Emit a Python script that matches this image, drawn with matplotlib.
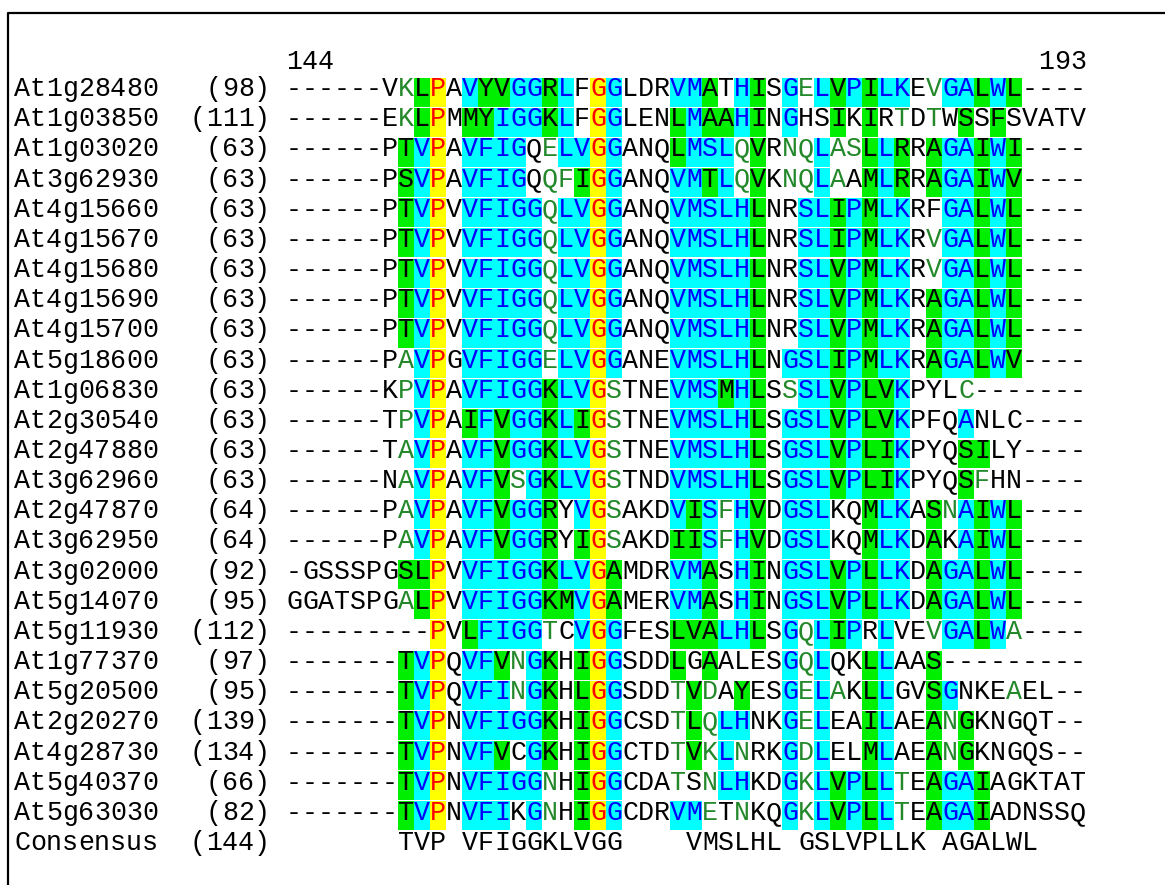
import matplotlib
matplotlib.use("Agg")
import matplotlib.pyplot as plt
from matplotlib.lines import Line2D

# ---------------- data ----------------
names = ["At1g28480", "At1g03850", "At1g03020", "At3g62930", "At4g15660",
         "At4g15670", "At4g15680", "At4g15690", "At4g15700", "At5g18600",
         "At1g06830", "At2g30540", "At2g47880", "At3g62960", "At2g47870",
         "At3g62950", "At3g02000", "At5g14070", "At5g11930", "At1g77370",
         "At5g20500", "At2g20270", "At4g28730", "At5g40370", "At5g63030"]
starts = [98, 111, 63, 63, 63, 63, 63, 63, 63, 63, 63, 63, 63, 63, 64,
          64, 92, 95, 112, 97, 95, 139, 134, 66, 82]
seqs = [
    "------VKLPAVYVGGRLFGGLDRVMATHISGELVPILKEVGALWL----",
    "------EKLPMMYIGGKLFGGLENLMAAHINGHSIKIRTDTWSSFSVATV",
    "------PTVPAVFIGQELVGGANQLMSLQVRNQLASLLRRAGAIWI----",
    "------PSVPAVFIGQQFIGGANQVMTLQVKNQLAAMLRRAGAIWV----",
    "------PTVPVVFIGGQLVGGANQVMSLHLNRSLIPMLKRFGALWL----",
    "------PTVPVVFIGGQLVGGANQVMSLHLNRSLIPMLKRVGALWL----",
    "------PTVPVVFIGGQLVGGANQVMSLHLNRSLVPMLKRVGALWL----",
    "------PTVPVVFIGGQLVGGANQVMSLHLNRSLVPMLKRAGALWL----",
    "------PTVPVVFIGGQLVGGANQVMSLHLNRSLVPMLKRAGALWL----",
    "------PAVPGVFIGGELVGGANEVMSLHLNGSLIPMLKRAGALWV----",
    "------KPVPAVFIGGKLVGSTNEVMSMHLSSSLVPLVKPYLC-------",
    "------TPVPAIFVGGKLIGSTNEVMSLHLSGSLVPLVKPFQANLC----",
    "------TAVPAVFVGGKLVGSTNEVMSLHLSGSLVPLIKPYQSILY----",
    "------NAVPAVFVSGKLVGSTNDVMSLHLSGSLVPLIKPYQSFHN----",
    "------PAVPAVFVGGRYVGSAKDVISFHVDGSLKQMLKASNAIWL----",
    "------PAVPAVFVGGRYIGSAKDIISFHVDGSLKQMLKDAKAIWL----",
    "-GSSSPGSLPVVFIGGKLVGAMDRVMASHINGSLVPLLKDAGALWL----",
    "GGATSPGALPVVFIGGKMVGAMERVMASHINGSLVPLLKDAGALWL----",
    "---------PVLFIGGTCVGGFESLVALHLSGQLIPRLVEVGALWA----",
    "-------TVPQVFVNGKHIGGSDDLGAALESGQLQKLLAAS---------",
    "-------TVPQVFINGKHLGGSDDTVDAYESGELAKLLGVSGNKEAEL--",
    "-------TVPNVFIGGKHIGGCSDTLQLHNKGELEAILAEANGKNGQT--",
    "-------TVPNVFVCGKHIGGCTDTVKLNRKGDLELMLAEANGKNGQS--",
    "-------TVPNVFIGGNHIGGCDATSNLHKDGKLVPLLTEAGAIAGKTAT",
    "-------TVPNVFIKGNHIGGCDRVMETNKQGKLVPLLTEAGAIADNSSQ",
]
# residue classes: i = identical, c = conserved, s = similar, w = weakly similar, . = none
classes = [
    ".......wsi" ".cssccsc.i" "c...ccs.cs" ".cwcscscc." "wccscs....",
    ".......wsi" ".sscccsc.i" "c...scsscs" ".c..s.s.w." "w.s.s.....",
    ".......sci" ".cccc.wcci" "c...scccws" ".wwcwwscs." "sccscs....",
    ".......sci" ".cccc.wwsi" "c...ccscws" ".wwcw.scs." "sccscs....",
    ".......sci" ".cccccwcci" "c...cccccs" "..ccscscc." ".ccscs....",
    ".......sci" ".cccccwcci" "c...cccccs" "..ccscscc." "wccscs....",
    ".......sci" ".cccccwcci" "c...cccccs" "..ccscscc." "wccscs....",
    ".......sci" ".cccccwcci" "c...cccccs" "..ccscscc." "sccscs....",
    ".......sci" ".cccccwcci" "c...cccccs" "..ccscscc." "sccscs....",
    ".......wci" ".cccccwcci" "c...cccccs" ".cccscscc." "sccscs....",
    ".......wci" ".cccccscci" "w...cccscs" ".wccscssc." "..w.......",
    ".......wci" ".scsccscsi" "w...cccccs" ".cccscssc." "..c.......",
    ".......wci" ".ccsccscci" "w...cccccs" ".cccscssc." "..ss......",
    ".......wci" ".ccswcscci" "w...cccccs" ".cccscssc." "..sw......",
    ".......wci" ".ccsccs.ci" "w...cscwcs" ".ccc..scc." "swcscs....",
    ".......wci" ".ccsccs.si" "w...sscwcs" ".ccc..scc." "s.cscs....",
    ".......ssi" ".cccccscci" "s...ccs.cs" ".cccscscc." "sccscs....",
    ".......wsi" ".cccccssci" "s...ccs.cs" ".cccscscc." "sccscs....",
    ".........i" ".sccccw.ci" "c...sssccs" ".cwcsc.c.." "wccscw....",
    ".......sci" ".ccswcs.si" "c...s.s..." ".cwc..sc.." "s.........",
    ".......sci" ".cccwcs.si" "c...wsw.s." ".cwcw.sc.." "sc...w....",
    ".......sci" ".cccccs.si" "c...wswcc." ".cwc..sc.." "sws.......",
    ".......sci" ".ccs.cs.si" "c...wswcw." ".cwc..sc.." "sws.......",
    ".......sci" ".cccccw.si" "c...w.wcc." ".cwcscscw." "sccs......",
    ".......sci" ".ccc.cw.si" "c...ccw.w." ".cwcscscw." "sccs......",
]
consensus_label = "Consensus"
consensus_start = 144
consensus = "       TVP VFIGGKLVGG    VMSLHL GSLVPLLK AGALWL    "
first_pos, last_pos = "144", "193"

# ---------------- styling ----------------
BG = {"i": "#ffff00", "c": "#00ffff", "s": "#00ee00"}
FG = {"i": "#ff0000", "c": "#0000ff", "s": "#000000", "w": "#22882a", ".": "#000000"}
FONT = ["Liberation Mono", "DejaVu Sans Mono"]
FS = 19.2

W, H = 1165, 885
CW = 16.0      # px per character
X0 = 14.0      # px of character column 0
RH = 30.15     # px per row
Y0 = 92.2      # px centre of first row
BASE = 4.0 / RH
SEQ_COL = 17   # character column where the alignment starts

fig = plt.figure(figsize=(W / 100, H / 100), dpi=100)
ax = fig.add_axes([0, 0, 1, 1])
ax.set_xlim(-X0 / CW, (W - X0) / CW)
ax.set_ylim((H - Y0) / RH, -Y0 / RH)
ax.axis("off")

# frame lines (left and top)
fig.add_artist(Line2D([8 / W, 8 / W, 1.0], [0.0, 1 - 12.7 / H, 1 - 12.7 / H],
                      transform=fig.transFigure, color="black", lw=1.6))


def put(col0, row, s, colors=None, base=BASE):
    for k, ch in enumerate(s):
        if ch == " ":
            continue
        c = colors[k] if colors is not None else "#000000"
        ax.text(col0 + k + 0.5, row + base, ch, ha="center", va="baseline",
                family=FONT, fontsize=FS, color=c)


# backgrounds
for cls, col in BG.items():
    xs, ys = [], []
    for r, cl in enumerate(classes):
        for j, ch in enumerate(cl):
            if ch == cls:
                xs.append(SEQ_COL + j + 0.5)
                ys.append(r)
    hgt = (RH - 1.2) / RH
    ax.bar(xs, [hgt] * len(xs), width=1.0, bottom=[y - hgt / 2 for y in ys],
           color=col, linewidth=0, align="center")

# header numbers
hdr_row = (69 - Y0) / RH
put(SEQ_COL, hdr_row, first_pos, base=0)
put(SEQ_COL + len(seqs[0]) - len(last_pos), hdr_row, last_pos, base=0)

# rows
for r, (nm, st, sq, cl) in enumerate(zip(names, starts, seqs, classes)):
    put(0, r, nm)
    num = "(%d)" % st
    put(16 - len(num), r, num)
    put(SEQ_COL, r, sq, [FG[c] for c in cl])

rc = len(names)
put(0, rc, consensus_label)
num = "(%d)" % consensus_start
put(16 - len(num), rc, num)
put(SEQ_COL, rc, consensus)

fig.savefig("out.png", dpi=100, facecolor="white")
